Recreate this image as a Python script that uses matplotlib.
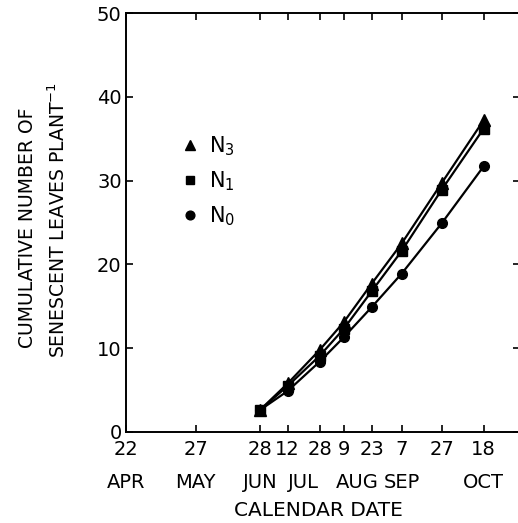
import matplotlib
matplotlib.use("Agg")
import matplotlib.pyplot as plt
import matplotlib.transforms as mtransforms

# sampling dates as day of year
dates = [179, 193, 209, 221, 235, 250, 270, 291]
n3 = [2.6, 5.8, 9.8, 13.1, 17.7, 22.5, 29.7, 37.2]
n1 = [2.6, 5.5, 9.1, 12.3, 16.8, 21.6, 28.9, 36.2]
n0 = [2.6, 4.9, 8.4, 11.3, 14.9, 18.9, 24.9, 31.7]

tick_days = [112, 147, 179, 193, 209, 221, 235, 250, 270, 291]
tick_labels = ["22", "27", "28", "12", "28", "9", "23", "7", "27", "18"]
month_pos = [112, 147, 179, 201, 228, 250, 291]
month_labels = ["APR", "MAY", "JUN", "JUL", "AUG", "SEP", "OCT"]

plt.rcParams["font.family"] = ["DejaVu Sans"]
plt.rcParams["mathtext.fontset"] = "dejavusans"

fig = plt.figure(figsize=(5.18, 5.23), dpi=100)
ax = fig.add_axes([0.243, 0.174, 1.003 - 0.243, 0.975 - 0.174])

ax.plot(dates, n3, color="black", lw=1.6, marker="^", ms=8, label=r"$\mathregular{N_3}$")
ax.plot(dates, n1, color="black", lw=1.6, marker="s", ms=7, label=r"$\mathregular{N_1}$")
ax.plot(dates, n0, color="black", lw=1.6, marker="o", ms=7, label=r"$\mathregular{N_0}$")

ax.set_xlim(112, 309)
ax.set_ylim(0, 50)
ax.set_xticks(tick_days)
ax.set_xticklabels(tick_labels)
ax.set_yticks([0, 10, 20, 30, 40, 50])
ax.tick_params(direction="in", length=5, width=1.2, labelsize=14, top=True, right=True,
               colors="black")
ax.tick_params(axis="x", pad=6)
ax.tick_params(axis="y", pad=3)
for s in ax.spines.values():
    s.set_linewidth(1.4)

trans = mtransforms.blended_transform_factory(ax.transData, fig.transFigure)
for mx, ml in zip(month_pos, month_labels):
    ax.text(mx, 1 - 482 / 523, ml, transform=trans, ha="center", va="center", fontsize=14)

fig.text(0.615, 1 - 510 / 523, "CALENDAR DATE", ha="center", va="center", fontsize=14.5)
fig.text(0.054, 0.565, "CUMULATIVE NUMBER OF", rotation=90, ha="center", va="center",
         fontsize=13.5)
fig.text(0.112, 0.58, r"SENESCENT LEAVES PLANT$^{-1}$", rotation=90, ha="center", va="center",
         fontsize=13.5)

leg = ax.legend(loc="upper left", bbox_to_anchor=(0.1, 0.755), frameon=False, fontsize=15,
                handlelength=0.6, handletextpad=0.6, labelspacing=0.55, markerscale=0.9)
for line in leg.get_lines():
    line.set_linestyle("none")

fig.savefig("out.png", dpi=100)
